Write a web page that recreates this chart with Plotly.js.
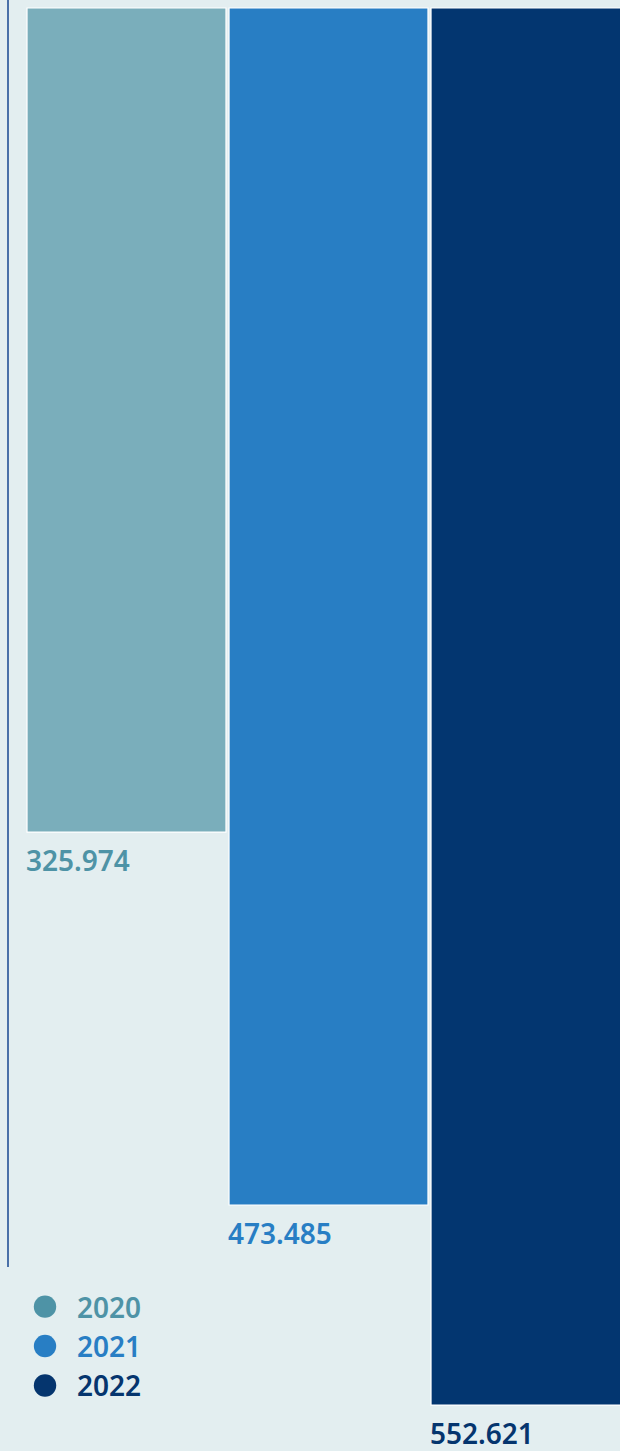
<!DOCTYPE html>
<html>
<head>
<meta charset="utf-8">
<script src="https://cdn.plot.ly/plotly-3.0.1.min.js"></script>
<style>
html,body{margin:0;padding:0;background:#e3eef0;overflow:hidden;}
#chart{width:620px;height:1451px;}
</style>
</head>
<body>
<div id="chart"></div>
<script>
// ---- data ----
const years = ['2020', '2021', '2022'];
const values = [325974, 473485, 552621];
const barColors = ['#7aaebb', '#287ec4', '#033670'];
const labelColors = ['#4e93a6', '#287ec4', '#05356e'];

function fmt(v) {
  return String(v).replace(/\B(?=(\d{3})+(?!\d))/g, '.');
}

const FONT = '"Noto Sans", "Open Sans", sans-serif';

const traces = [];
years.forEach((y, i) => {
  traces.push({
    type: 'bar',
    x: [y],
    y: [values[i]],
    marker: {color: barColors[i], line: {color: '#ffffff', width: 1.2}},
    width: 0.985,
    showlegend: false,
    hoverinfo: 'skip'
  });
});
years.forEach((y, i) => {
  traces.push({
    type: 'scatter',
    mode: 'markers',
    x: [null],
    y: [null],
    name: '<span style="color:' + labelColors[i] + '">' + y + '</span>',
    marker: {color: labelColors[i], size: 22, symbol: 'circle'},
    showlegend: true,
    hoverinfo: 'skip'
  });
});

const annotations = years.map((y, i) => ({
  x: i - 0.4925,
  y: values[i],
  xref: 'x',
  yref: 'y',
  text: fmt(values[i]),
  showarrow: false,
  xanchor: 'left',
  yanchor: 'top',
  xshift: -3,
  yshift: -7,
  font: {family: FONT, size: 28, color: labelColors[i], weight: 600}
}));

const layout = {
  width: 620,
  height: 1451,
  margin: {l: 8, r: 0, t: 0, b: 0},
  paper_bgcolor: '#e3eef0',
  plot_bgcolor: '#e3eef0',
  barmode: 'overlay',
  showlegend: true,
  legend: {
    x: 0.0082, y: 0.1165, xanchor: 'left', yanchor: 'top',
    xref: 'paper', yref: 'paper',
    bgcolor: 'rgba(0,0,0,0)',
    font: {family: FONT, size: 28, weight: 600},
    itemwidth: 54,
    tracegroupgap: 0
  },
  xaxis: {
    type: 'category',
    range: [-0.5866, 2.443],
    showticklabels: false, showgrid: false, zeroline: false, showline: false,
    fixedrange: true
  },
  yaxis: {
    range: [570800, -3165],
    showticklabels: false, showgrid: false, zeroline: false, showline: false,
    fixedrange: true
  },
  shapes: [{
    type: 'line', xref: 'paper', yref: 'paper',
    x0: 0, x1: 0, y0: 1, y1: 0.1268,
    line: {color: '#4a70a8', width: 2}
  }],
  annotations: annotations,
  font: {family: FONT}
};

Plotly.newPlot('chart', traces, layout, {displayModeBar: false, staticPlot: true}).then(function (gd) {
  // enlarge legend circles (plotly caps legend marker size at 16px)
  gd.querySelectorAll('.legendpoints path.scatterpts').forEach(function (p) {
    var t = p.getAttribute('transform') || '';
    p.setAttribute('transform', t + ' scale(1.4)');
  });
});
</script>
</body>
</html>
